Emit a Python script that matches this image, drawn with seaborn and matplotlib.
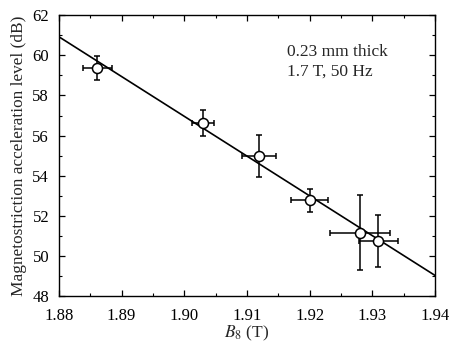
import numpy as np
import pandas as pd
import matplotlib
matplotlib.use("Agg")
import matplotlib.pyplot as plt
from matplotlib.ticker import MultipleLocator
import seaborn as sns

# data
b8 = [1.8861, 1.9030, 1.9120, 1.9200, 1.9281, 1.9310]
level = [59.37, 56.63, 54.97, 52.78, 51.17, 50.76]
b8_err = [0.0023, 0.0018, 0.0027, 0.0030, 0.0048, 0.0031]
level_err = [0.58, 0.66, 1.04, 0.56, 1.87, 1.31]

fit_b8 = [1.88, 1.94]
fit_level = [60.92, 49.05]

df = pd.DataFrame({"b8": b8, "level": level})
fit = pd.DataFrame({"b8": fit_b8, "level": fit_level})

sns.set_style("ticks")
plt.rcParams["font.family"] = ["Liberation Serif", "DejaVu Serif"]
plt.rcParams["mathtext.fontset"] = "stix"

fig = plt.figure(figsize=(4.53, 3.5), dpi=100)
ax = fig.add_axes([0.130, 0.153, 0.830, 0.804])

sns.lineplot(data=fit, x="b8", y="level", color="black", lw=1.2, ax=ax)
ax.errorbar(b8, level, xerr=b8_err, yerr=level_err, fmt="none",
            ecolor="black", elinewidth=1.1, capsize=2.5, capthick=1.1, zorder=3)
sns.scatterplot(data=df, x="b8", y="level", marker="o", s=52,
                facecolor="white", edgecolor="black", linewidth=1.1, zorder=4, ax=ax)

ax.set_xlim(1.88, 1.94)
ax.set_ylim(48, 62)
ax.xaxis.set_major_locator(MultipleLocator(0.01))
ax.xaxis.set_minor_locator(MultipleLocator(0.005))
ax.yaxis.set_major_locator(MultipleLocator(2))
ax.yaxis.set_minor_locator(MultipleLocator(1))
ax.set_xticklabels([f"{v:.2f}" for v in ax.get_xticks()])
ax.tick_params(which="both", direction="in", top=True, right=True, labelsize=12, colors="black")
ax.tick_params(which="major", length=4, width=0.9)
ax.tick_params(axis="x", which="major", pad=8)
ax.tick_params(axis="y", which="major", pad=7)
ax.tick_params(which="minor", length=2, width=0.8)
for s in ax.spines.values():
    s.set_linewidth(1.0)
    s.set_color("black")

ax.set_xlabel(r"$B_8$ (T)", fontsize=12.5, labelpad=0)
ax.set_ylabel("Magnetostriction acceleration level (dB)", fontsize=12.4, labelpad=4)
ax.text(1.9164, 59.65, "0.23 mm thick\n1.7 T, 50 Hz", fontsize=12.5,
        linespacing=1.3, va="center")

fig.savefig("out.png", dpi=100)
